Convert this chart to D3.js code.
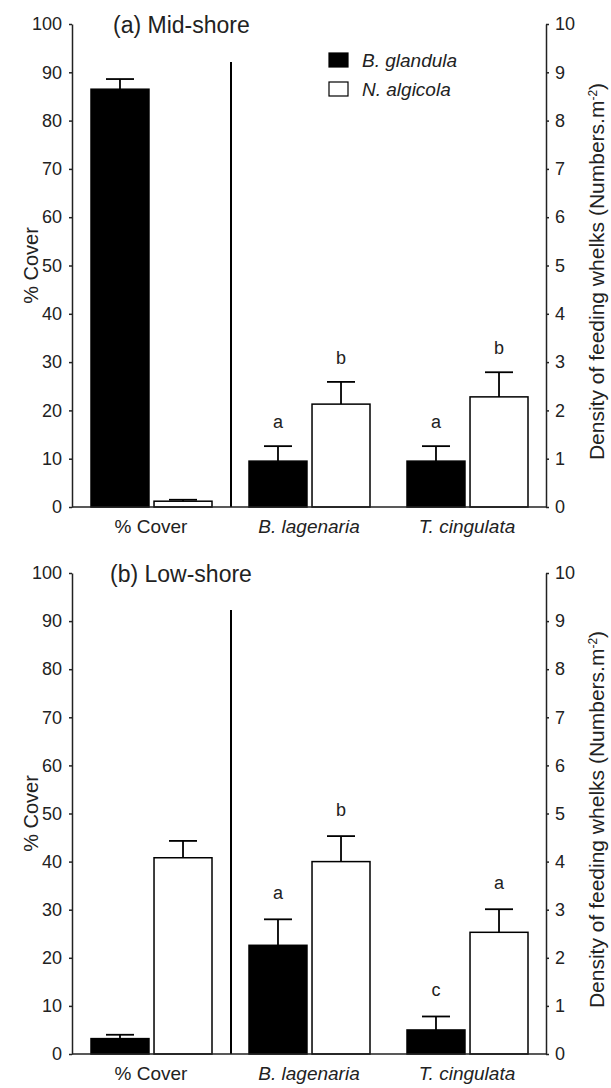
<!DOCTYPE html>
<html>
<head>
<meta charset="utf-8">
<script src="https://d3js.org/d3.v7.min.js"></script>
<style>
body { margin: 0; background: #fff; }
svg { font-family: 'Liberation Sans', Arial, sans-serif; }
.tick text { font-size: 18px; fill: #222; }
.axis path, .axis line { stroke: #222; stroke-width: 1.5px; }
</style>
</head>
<body>
<div id="chart"></div>
<script>
// categories on the x axis; first one is read on the left (% cover) axis, the rest on the right (density) axis
const categories = ["% Cover", "B. lagenaria", "T. cingulata"];
const series = ["B. glandula", "N. algicola"];

// (a) Mid-shore
const midGlandula = [86.5, 0.95, 0.95];
const midGlandulaSE = [2.1, 0.31, 0.31];
const midAlgicola = [1.2, 2.13, 2.28];
const midAlgicolaSE = [0.3, 0.46, 0.51];
const midGlandulaLetters = ["", "a", "a"];
const midAlgicolaLetters = ["", "b", "b"];

// (b) Low-shore
const lowGlandula = [3.2, 2.26, 0.50];
const lowGlandulaSE = [0.8, 0.54, 0.28];
const lowAlgicola = [40.8, 4.00, 2.53];
const lowAlgicolaSE = [3.5, 0.53, 0.48];
const lowGlandulaLetters = ["", "a", "c"];
const lowAlgicolaLetters = ["", "b", "a"];

const leftTicks = d3.range(0, 101, 10);
const rightTicks = d3.range(0, 11, 1);

const W = 611, H = 1088;
const left = 72, right = 546;

const svg = d3.select("#chart").append("svg")
    .attr("width", W)
    .attr("height", H);

function drawPanel(p) {
    const g = svg.append("g");
    const yL = d3.scaleLinear().domain([0, 100]).range([p.bottom, p.top]);
    const yR = d3.scaleLinear().domain([0, 10]).range([p.bottom, p.top]);
    const x = d3.scaleBand().domain(categories).range([left, right]);
    const xs = d3.scaleBand().domain(series).range([19, 140]).paddingInner(0.08);

    const rows = [];
    categories.forEach((c, i) => {
        rows.push({cat: c, s: series[0], v: p.glandula[i], se: p.glandulaSE[i], lab: p.glandulaLetters[i], fill: "#000", y: i == 0 ? yL : yR});
        rows.push({cat: c, s: series[1], v: p.algicola[i], se: p.algicolaSE[i], lab: p.algicolaLetters[i], fill: "#fff", y: i == 0 ? yL : yR});
    });

    // bars
    g.selectAll(".bar")
        .data(rows)
        .enter().append("rect")
        .attr("class", "bar")
        .attr("x", d => x(d.cat) + xs(d.s))
        .attr("y", d => d.y(d.v))
        .attr("width", xs.bandwidth())
        .attr("height", d => p.bottom - d.y(d.v))
        .style("fill", d => d.fill)
        .style("stroke", "#000")
        .style("stroke-width", 1.5);

    // error bars
    const cx = d => x(d.cat) + xs(d.s) + xs.bandwidth() / 2;
    g.selectAll(".err")
        .data(rows)
        .enter().append("line")
        .attr("x1", cx).attr("x2", cx)
        .attr("y1", d => d.y(d.v))
        .attr("y2", d => d.y(d.v + d.se))
        .style("stroke", "#000")
        .style("stroke-width", 1.8);
    g.selectAll(".cap")
        .data(rows)
        .enter().append("line")
        .attr("x1", d => cx(d) - 14).attr("x2", d => cx(d) + 14)
        .attr("y1", d => d.y(d.v + d.se))
        .attr("y2", d => d.y(d.v + d.se))
        .style("stroke", "#000")
        .style("stroke-width", 1.8);

    // significance letters
    g.selectAll(".letter")
        .data(rows.filter(d => d.lab))
        .enter().append("text")
        .attr("x", cx)
        .attr("y", d => d.y(d.v + d.se) - p.letterGap)
        .attr("text-anchor", "middle")
        .style("font-size", "18px")
        .style("fill", "#222")
        .text(d => d.lab);

    // separator between % cover and densities
    g.append("line")
        .attr("x1", x(categories[1]) + 1).attr("x2", x(categories[1]) + 1)
        .attr("y1", p.sepTop).attr("y2", p.bottom)
        .style("stroke", "#000")
        .style("stroke-width", 2);

    // axes
    g.append("g")
        .attr("class", "axis")
        .attr("transform", `translate(${left},0)`)
        .call(d3.axisLeft(yL).tickValues(leftTicks).tickSize(3).tickSizeOuter(0).tickPadding(7));
    g.append("g")
        .attr("class", "axis")
        .attr("transform", `translate(${right},0)`)
        .call(d3.axisRight(yR).tickValues(rightTicks).tickSize(3).tickSizeOuter(0).tickPadding(6));

    g.append("line")
        .attr("x1", left).attr("x2", right)
        .attr("y1", p.bottom).attr("y2", p.bottom)
        .style("stroke", "#222")
        .style("stroke-width", 1.5);

    // category labels
    g.selectAll(".cat")
        .data(categories)
        .enter().append("text")
        .attr("x", d => x(d) + x.bandwidth() / 2)
        .attr("y", p.bottom + 26)
        .attr("text-anchor", "middle")
        .style("font-size", "19px")
        .style("font-style", (d, i) => i == 0 ? "normal" : "italic")
        .style("fill", "#222")
        .text(d => d);

    // title
    g.append("text")
        .attr("x", p.titleX)
        .attr("y", p.top + 9)
        .style("font-size", "23px")
        .style("fill", "#222")
        .text(p.title);

    // axis titles
    const mid = (p.top + p.bottom) / 2;
    g.append("text")
        .attr("transform", `translate(38,${mid}) rotate(-90)`)
        .attr("text-anchor", "middle")
        .style("font-size", "20px")
        .style("fill", "#222")
        .text("% Cover");
    const rt = g.append("text")
        .attr("transform", `translate(604,${mid + 6}) rotate(-90)`)
        .attr("text-anchor", "middle")
        .style("font-size", "21px")
        .style("fill", "#222");
    rt.append("tspan").text("Density of feeding whelks (Numbers.m");
    rt.append("tspan").attr("dy", -7).style("font-size", "12px").text("-2");
    rt.append("tspan").attr("dy", 7).text(")");
}

drawPanel({
    top: 24, bottom: 507, sepTop: 62, titleX: 113, title: "(a) Mid-shore", letterGap: 18,
    glandula: midGlandula, glandulaSE: midGlandulaSE, glandulaLetters: midGlandulaLetters,
    algicola: midAlgicola, algicolaSE: midAlgicolaSE, algicolaLetters: midAlgicolaLetters
});
drawPanel({
    top: 573, bottom: 1054, sepTop: 610, titleX: 110, title: "(b) Low-shore", letterGap: 20,
    glandula: lowGlandula, glandulaSE: lowGlandulaSE, glandulaLetters: lowGlandulaLetters,
    algicola: lowAlgicola, algicolaSE: lowAlgicolaSE, algicolaLetters: lowAlgicolaLetters
});

// legend (panel a only)
const legend = svg.append("g").attr("transform", "translate(329,53)");
legend.selectAll("rect")
    .data(series)
    .enter().append("rect")
    .attr("x", 0)
    .attr("y", (d, i) => i * 29)
    .attr("width", 19)
    .attr("height", 14)
    .style("fill", (d, i) => i == 0 ? "#000" : "#fff")
    .style("stroke", "#000")
    .style("stroke-width", 1.2);
legend.selectAll("text")
    .data(series)
    .enter().append("text")
    .attr("x", 33)
    .attr("y", (d, i) => i * 29 + 14)
    .style("font-size", "19px")
    .style("font-style", "italic")
    .style("fill", "#222")
    .text(d => d);
</script>
</body>
</html>
